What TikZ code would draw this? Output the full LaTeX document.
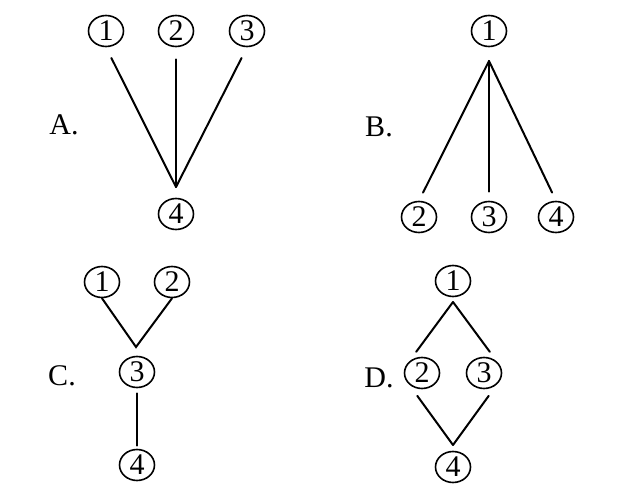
\documentclass[tikz,border=0pt]{standalone}
\usepackage{fontspec}
\setmainfont{Liberation Serif}
\usetikzlibrary{positioning,shapes.geometric}
\tikzset{
  num/.style={draw, ellipse, line width=1.6pt, inner sep=0pt,
              minimum width=35pt, minimum height=31pt,
              font=\fontsize{30}{30}\selectfont},
  tag/.style={anchor=base, font=\fontsize{30}{30}\selectfont},
  edge/.style={line width=2pt, line cap=round},
}

\begin{document}
\begin{tikzpicture}[x=1pt, y=-1pt]
  \useasboundingbox (0,0) rectangle (622,495);

  % A
  \node[tag] (labA) at (64,135) {A.};
  \node[num] (a1) at (106,31) {1};
  \node[num] (a2) at (176,31) {2};
  \node[num] (a3) at (247,31) {3};
  \node[num] (a4) at (176,214) {4};
  \coordinate (aj) at (176,187);
  \foreach \n in {a1,a2,a3}
    \draw[edge, shorten <=12pt] (\n.south) -- (aj);

  % B
  \node[tag] (labB) at (379,137) {B.};
  \node[num] (b1) at (489,31) {1};
  \node[num] (b2) at (419,217) {2};
  \node[num] (b3) at (489,217) {3};
  \node[num] (b4) at (556,217) {4};
  \coordinate (bj) at (489,61);
  \foreach \n in {b2,b3,b4}
    \draw[edge, shorten >=9pt] (bj) -- (\n.north);

  % C
  \node[tag] (labC) at (62,385) {C.};
  \node[num] (c1) at (102,282) {1};
  \node[num] (c2) at (172,282) {2};
  \node[num] (c3) at (137,372) {3};
  \node[num] (c4) at (137,465) {4};
  \coordinate (cj) at (136,347);
  \draw[edge] (c1.south) -- (cj) -- (c2.south);
  \draw[edge, shorten <=5pt, shorten >=3pt] (c3) -- (c4);

  % D
  \node[tag] (labD) at (379,387) {D.};
  \node[num] (d1) at (453,281) {1};
  \node[num] (d2) at (422,373) {2};
  \node[num] (d3) at (484,373) {3};
  \node[num] (d4) at (453,467) {4};
  \coordinate (dj) at (453,302);
  \coordinate (dk) at (453,445);
  \draw[edge, shorten >=12pt] (dj) -- (d2.north west);
  \draw[edge, shorten >=12pt] (dj) -- (d3.north east);
  \draw[edge, shorten <=14pt] (d2.south west) -- (dk);
  \draw[edge, shorten <=14pt] (d3.south east) -- (dk);
\end{tikzpicture}
\end{document}
